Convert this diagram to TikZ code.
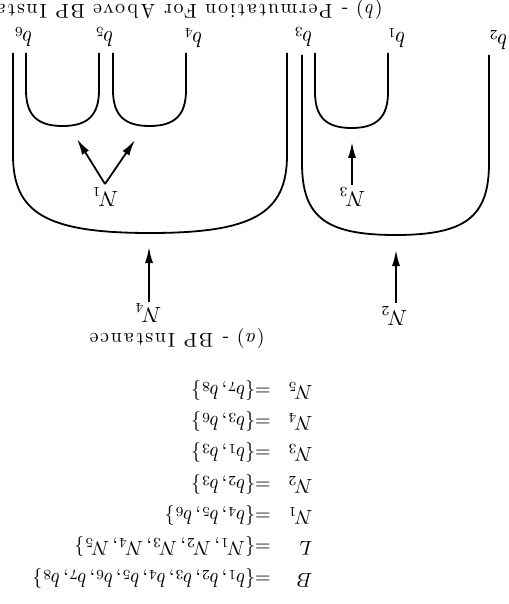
\documentclass[tikz,border=0pt]{standalone}
\usepackage{fontspec}
\newfontfamily\capfont{lmroman10-regular.otf}[ItalicFont=lmroman10-italic.otf,LetterSpace=9]
\usetikzlibrary{arrows.meta}
\begin{document}
\begin{tikzpicture}[x=0.5pt,y=-0.5pt,
  wire/.style={line width=0.9pt},
  arr/.style={line width=0.9pt,-{Latex[length=8pt,width=4pt]}},
  lab/.style={rotate=180,inner sep=0pt,font=\fontsize{10.5}{12}\selectfont},
  eqn/.style={rotate=180,inner sep=0pt,anchor=base west,font=\fontsize{10}{12}\selectfont},
  capt/.style={rotate=180,inner sep=0pt,anchor=base west,font=\capfont\fontsize{10}{12}\selectfont}]
\useasboundingbox (0,0) rectangle (508,604);
\clip (0,0) rectangle (508,604);
% caption (b)
\node[capt] (capb) at (383,5) {(\textit{b}) - Permutation For Above BP Instance};
% pin labels
\node[lab] (b6) at (23,37) {$b_6$};
\node[lab] (b5) at (104,37) {$b_5$};
\node[lab] (b4) at (193,38) {$b_4$};
\node[lab] (b3) at (303,37) {$b_3$};
\node[lab] (b1) at (396,38) {$b_1$};
\node[lab] (b2) at (498,40) {$b_2$};
% big left U (N4)
\draw[wire] (13,53) -- (13,155) .. controls (13,213.5) and (47,233) .. (150,233)
  .. controls (253,233) and (287,213.5) .. (287,155) -- (287,53);
% big right U (N2)
\draw[wire] (302,55) -- (302,163) .. controls (302,217) and (325.5,235) .. (395.5,235)
  .. controls (465.5,235) and (489,217) .. (489,163) -- (489,55);
% small U b6-b5
\draw[wire] (26,53) -- (26,90) .. controls (26,115) and (37,126) .. (62.5,126)
  .. controls (88,126) and (99,115) .. (99,90) -- (99,53);
% small U b5-b4
\draw[wire] (113,53) -- (113,90) .. controls (113,115) and (124,126) .. (149.5,126)
  .. controls (175,126) and (186,115) .. (186,90) -- (186,53);
% small U b3-b1
\draw[wire] (315,53) -- (315,92) .. controls (315,117) and (326,128) .. (351.5,128)
  .. controls (377,128) and (388,117) .. (388,92) -- (388,53);
% net labels and arrows
\node[lab] (n1) at (105,197) {$N_1$};
\node[lab] (n3) at (352,197) {$N_3$};
\node[lab] (n4) at (148,313) {$N_4$};
\node[lab] (n2) at (394,316) {$N_2$};
\coordinate (n1s) at (105,184);
\coordinate (n1a) at (77,139);
\coordinate (n1b) at (135,140);
\coordinate (n3s) at (352,185);
\coordinate (n3t) at (352,142);
\coordinate (n4s) at (149,302);
\coordinate (n4t) at (149,247);
\coordinate (n2s) at (396,303);
\coordinate (n2t) at (396,250);
\draw[arr] (n1s) -- (n1a);
\draw[arr] (n1s) -- (n1b);
\draw[arr] (n3s) -- (n3t);
\draw[arr] (n4s) -- (n4t);
\draw[arr] (n2s) -- (n2t);
% caption (a)
\node[capt] (capa) at (265,333) {(\textit{a}) - BP Instance};
% definitions
\node[eqn] (dN5) at (313,385) {$N_5$};
\node[eqn] (sN5) at (271,385) {${=}\{b_7,b_8\}$};
\node[eqn] (dN4) at (313,416.3) {$N_4$};
\node[eqn] (sN4) at (271,416.3) {${=}\{b_3,b_6\}$};
\node[eqn] (dN3) at (313,447.7) {$N_3$};
\node[eqn] (sN3) at (271,447.7) {${=}\{b_1,b_3\}$};
\node[eqn] (dN2) at (313,479) {$N_2$};
\node[eqn] (sN2) at (271,479) {${=}\{b_2,b_3\}$};
\node[eqn] (dN1) at (313,510.3) {$N_1$};
\node[eqn] (sN1) at (271,510.3) {${=}\{b_4,b_5,b_6\}$};
\node[eqn] (dL) at (313,541.7) {$L$};
\node[eqn] (sL) at (271,541.7) {${=}\{N_1,N_2,N_3,N_4,N_5\}$};
\node[eqn] (dB) at (313,573) {$B$};
\node[eqn] (sB) at (271,573) {${=}\{b_1,b_2,b_3,b_4,b_5,b_6,b_7,b_8\}$};
\end{tikzpicture}
\end{document}
